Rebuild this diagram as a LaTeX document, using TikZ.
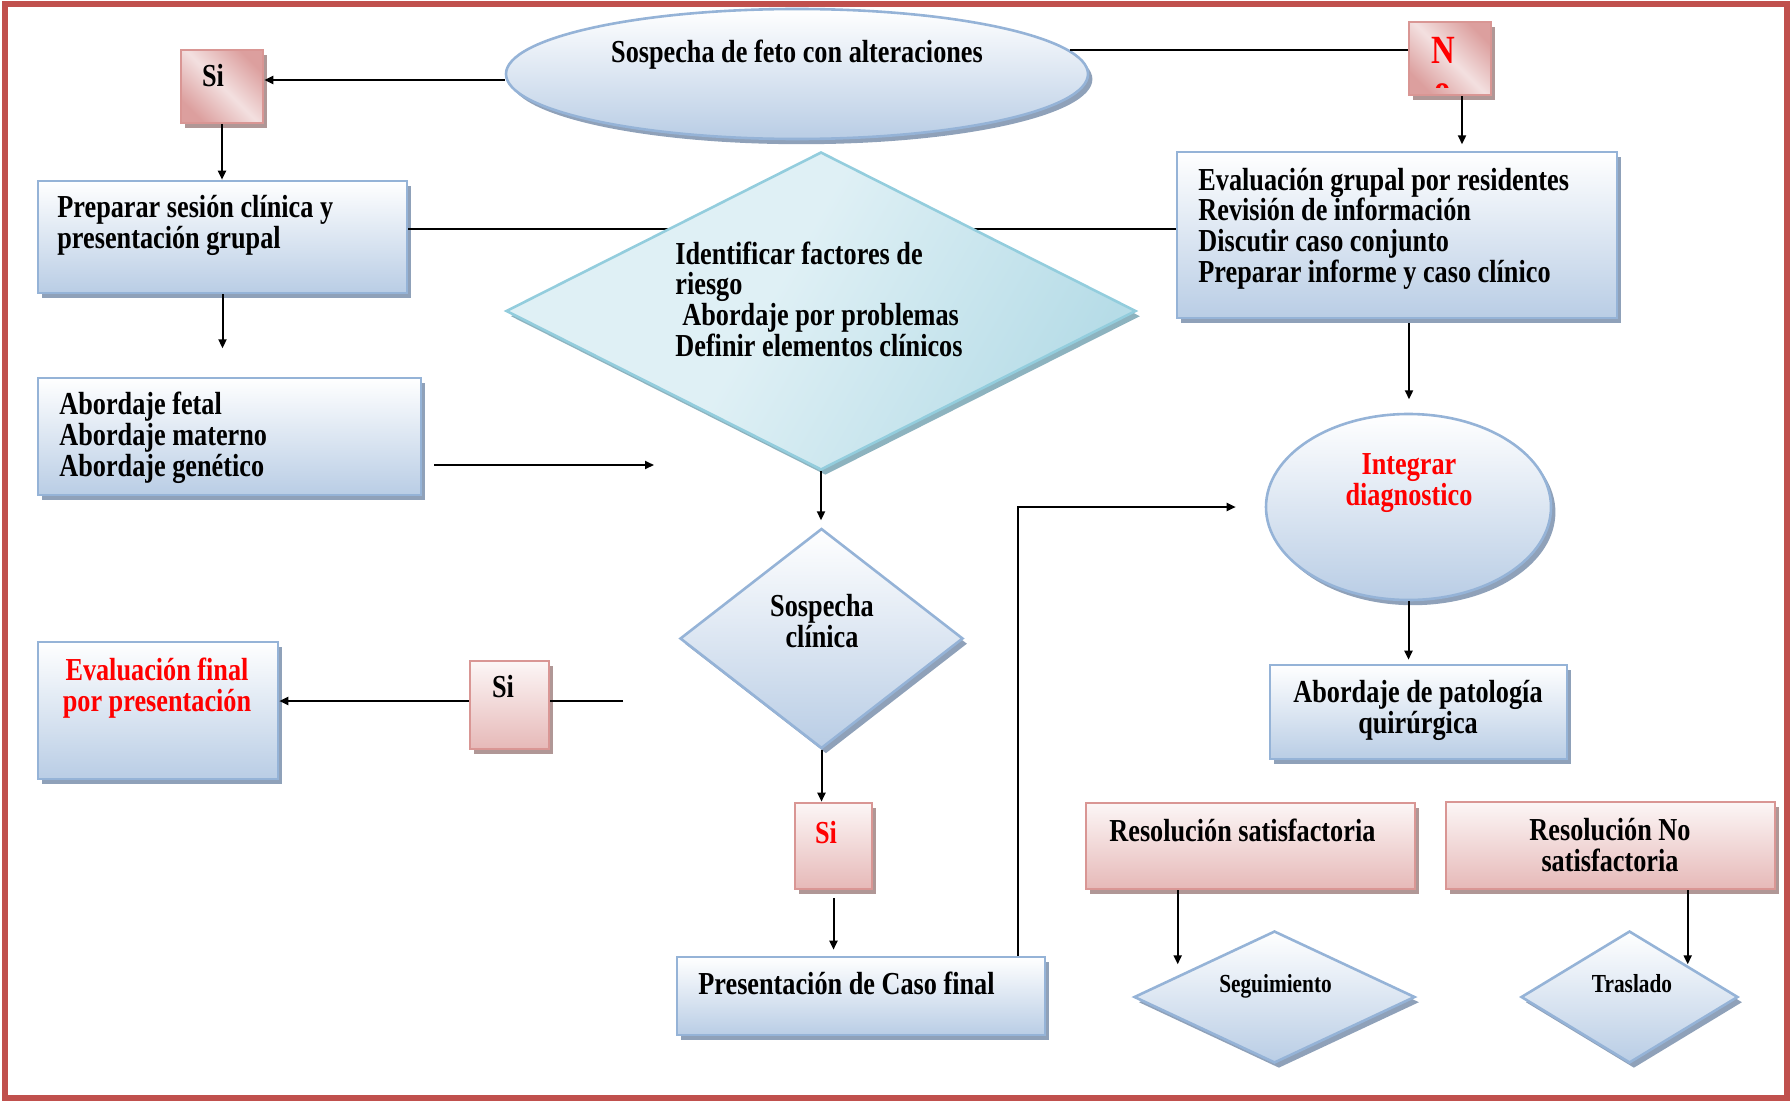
\documentclass[tikz,border=0pt]{standalone}
\usepackage{fontspec}
\newfontfamily\tnr{Liberation Serif}[FakeStretch=0.82]
\usetikzlibrary{shapes.geometric,arrows.meta,shadows,calc}

\definecolor{framered}{HTML}{C0504D}
\definecolor{bluebd}{HTML}{95B3D7}
\definecolor{bluebot}{HTML}{B9CDE5}
\definecolor{blueshd}{HTML}{8FA1B9}
\definecolor{pinkbd}{HTML}{D99694}
\definecolor{pinkbot}{HTML}{E6B9B8}
\definecolor{pinktop}{HTML}{FCF6F6}
\definecolor{pinkshd}{HTML}{B09796}
\definecolor{pkdark}{HTML}{DC9F9E}
\definecolor{pklight}{HTML}{F3E0E0}
\definecolor{cyanbd}{HTML}{93CDDD}
\definecolor{cyanlt}{HTML}{DFF0F5}
\definecolor{cyandk}{HTML}{B6DCE7}
\definecolor{cyanshd}{HTML}{8DB3BF}

% diagonal shadings: dark corners with a light band across
\pgfdeclarehorizontalshading{pinkdiag}{100bp}{color(0bp)=(pkdark); color(25bp)=(pkdark); color(50bp)=(pklight); color(75bp)=(pkdark); color(100bp)=(pkdark)}
\pgfdeclarehorizontalshading{cyandiag}{100bp}{color(0bp)=(cyanlt); color(25bp)=(cyanlt); color(45bp)=(cyanlt); color(75bp)=(cyandk); color(100bp)=(cyandk)}

\begin{document}
\begin{tikzpicture}[x=0.5pt,y=-0.5pt,
  bluebox/.style={rectangle, draw=bluebd, line width=1.3pt, inner sep=0pt,
    top color=white, bottom color=bluebot,
    general shadow={fill=blueshd, shadow xshift=2.2pt, shadow yshift=-2.6pt}},
  pinkbox/.style={rectangle, draw=pinkbd, line width=1.3pt, inner sep=0pt,
    top color=pinktop, bottom color=pinkbot,
    general shadow={fill=pinkshd, shadow xshift=2.2pt, shadow yshift=-2.6pt}},
  pinkdg/.style={rectangle, draw=pinkbd, line width=1.3pt, inner sep=0pt,
    shading=pinkdiag, shading angle=45,
    general shadow={fill=pinkshd, shadow xshift=2.2pt, shadow yshift=-2.6pt}},
  blueell/.style={ellipse, draw=bluebd, line width=1.3pt, inner sep=0pt,
    top color=white, bottom color=bluebot,
    general shadow={fill=blueshd, shadow xshift=2.2pt, shadow yshift=-2.6pt}},
  bluedia/.style={diamond, draw=bluebd, line width=1.3pt, inner sep=0pt,
    top color=white, bottom color=bluebot,
    general shadow={fill=blueshd, shadow xshift=2.2pt, shadow yshift=-2.6pt}},
  cyandia/.style={diamond, draw=cyanbd, line width=1.3pt, inner sep=0pt,
    shading=cyandiag, shading angle=-30,
    general shadow={fill=cyanshd, shadow xshift=2.2pt, shadow yshift=-2.6pt}},
  txt/.style={inner sep=0pt, align=left, font=\tnr\bfseries\fontsize{16}{15.3}\selectfont},
  smalltxt/.style={font=\tnr\bfseries\fontsize{13}{15}\selectfont},
  ln/.style={line width=1pt},
  arr/.style={line width=1pt, -{Triangle[length=4.5pt,width=4pt]}}
]
\useasboundingbox (0,0) rectangle (1792,1102);

% boxes
\node[pinkdg, minimum width=41pt, minimum height=36.5pt] (siA) at (222,86.5) {};
\node[pinkdg, minimum width=41pt, minimum height=36.5pt] (noB) at (1450,58.5) {};
\node[bluebox, minimum width=184.5pt, minimum height=56pt] (prep) at (222.5,237) {};
\node[bluebox, minimum width=191.5pt, minimum height=58.5pt] (abord) at (229.5,436.5) {};
\node[bluebox, minimum width=220pt, minimum height=83pt] (evalG) at (1397,235) {};
\node[bluebox, minimum width=120pt, minimum height=68.5pt] (evalF) at (158,710.5) {};
\node[pinkbox, minimum width=39.5pt, minimum height=44pt] (siC) at (509.5,705) {};
\node[pinkbox, minimum width=38.5pt, minimum height=43pt] (siR) at (833.5,846) {};
\node[bluebox, minimum width=184pt, minimum height=39pt] (pres) at (861,996) {};
\node[bluebox, minimum width=148.5pt, minimum height=47pt] (patol) at (1418.5,712) {};
\node[pinkbox, minimum width=164.5pt, minimum height=43pt] (resS) at (1250.5,846) {};
\node[pinkbox, minimum width=164.5pt, minimum height=43.5pt] (resN) at (1610.5,845.5) {};
\node[blueell, minimum width=291pt, minimum height=65pt] (ell) at (797,74) {};
\node[blueell, minimum width=142.5pt, minimum height=93pt] (integ) at (1408.5,507) {};

% horizontal link passing behind the central diamond
\coordinate (lineY) at (0,229);
\draw[ln] (prep.east |- lineY) -- (evalG.west |- lineY);

% diamonds
\node[cyandia, minimum width=315pt, minimum height=159pt] (dia) at (821,311) {};
\node[bluedia, minimum width=141.5pt, minimum height=110pt] (sosp) at (821.5,638.5) {};
\node[bluedia, minimum width=140.5pt, minimum height=66pt] (seg) at (1274.5,997) {};
\node[bluedia, minimum width=108.5pt, minimum height=66pt] (tras) at (1629.5,997) {};

% connectors
\draw[arr] ([yshift=-3pt]ell.west) -- ([yshift=-3pt]ell.west -| siA.east);
\draw[ln] (ell.5) -- (ell.5 -| noB.west);
\draw[arr] (siA.south) -- (siA.south |- prep.north);
\draw[arr] (prep.south) -- ++(0,54);
\coordinate (abA) at (434,465);
\coordinate (abB) at (654,465);
\draw[arr] (abA) -- (abB);
\draw[arr] (dia.south) -- ++(0,49);
\draw[arr] (sosp.south) -- (sosp.south |- siR.north);
\draw[arr] ([yshift=-4pt]siR.south) -- ([yshift=3pt]siR.south |- pres.north);
\coordinate (presUp) at ([xshift=-14pt]pres.north east);
\draw[arr] (presUp) |- ([xshift=-14.5pt]integ.west);
\draw[arr] ([xshift=6pt]noB.south) -- ++(0,48);
\draw[arr] ([xshift=6pt,yshift=-2pt]evalG.south) -- ++(0,76);
\draw[arr] (integ.south) -- ([yshift=2pt]integ.south |- patol.north);
\draw[arr] ([xshift=46.5pt]resS.south west) -- ++(0,74);
\draw[arr] ([xshift=121.5pt]resN.south west) -- ++(0,74);
\coordinate (mR) at (623,701);
\draw[ln] (mR) -- (mR -| siC.east);
\draw[arr] (mR -| siC.west) -- (mR -| evalF.east);

% texts (multi-line nodes are placed by the baseline of their last line)
\node[txt, anchor=base] (ell-t) at (797,63) {Sospecha de feto con alteraciones};
\node[txt, anchor=base] (siA-t) at (213,87) {Si};
\node[txt, anchor=base, text=red, font=\tnr\bfseries\fontsize{20}{24}\selectfont] (noB-t) at (1443,64) {N};
\begin{scope}
  \clip (noB.north west) rectangle (noB.east |- 0,88);
  \node[txt, anchor=base, text=red, font=\tnr\bfseries\fontsize{20}{24}\selectfont] (noB-o) at (1443,103) {o};
\end{scope}
\node[txt, anchor=base west] (prep-t) at (57,248) {Preparar sesión clínica y\\presentación grupal};
\node[txt, anchor=base west] (abord-t) at (59,476) {Abordaje fetal\\Abordaje materno\\Abordaje genético};
\node[txt, anchor=base west] (dia-t) at (675,356) {Identificar factores de\\riesgo\\\hspace{3.5pt}Abordaje por problemas\\Definir elementos clínicos};
\node[txt, anchor=base west] (evalG-t) at (1198,282) {Evaluación grupal por residentes\\Revisión de información\\Discutir caso conjunto\\Preparar informe y caso clínico};
\node[txt, anchor=base, align=center] (sosp-t) at (822,647) {Sospecha\\clínica};
\node[txt, anchor=base, align=center, text=red] (integ-t) at (1409,505) {Integrar\\diagnostico};
\node[txt, anchor=base, align=center] (patol-t) at (1418,733) {Abordaje de patología\\quirúrgica};
\node[txt, anchor=base, align=center, text=red] (evalF-t) at (157,711) {Evaluación final\\por presentación};
\node[txt, anchor=base] (siC-t) at (503,697) {Si};
\node[txt, anchor=base, text=red] (siR-t) at (826,843) {Si};
\node[txt, anchor=base west] (pres-t) at (698,994) {Presentación de Caso final};
\node[txt, anchor=base west] (resS-t) at (1109,841) {Resolución satisfactoria};
\node[txt, anchor=base, align=center] (resN-t) at (1610,871) {Resolución No\\satisfactoria};
\node[txt, smalltxt, anchor=base] (seg-t) at (1275.5,992) {Seguimiento};
\node[txt, smalltxt, anchor=base] (tras-t) at (1632,992) {Traslado};

% page frame
\draw[framered, line width=2.8pt] (5,4) rectangle (1787,1098);
\end{tikzpicture}
\end{document}
